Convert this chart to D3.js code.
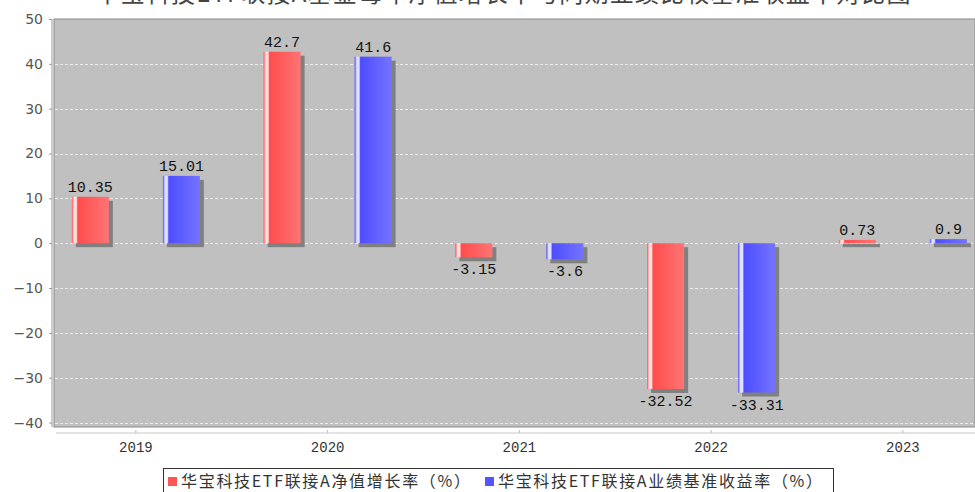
<!DOCTYPE html>
<html>
<head>
<meta charset="utf-8">
<script src="https://cdn.jsdelivr.net/npm/d3@7"></script>
<style>
  body { margin: 0; background: #fff; }
  svg { display: block; }
</style>
</head>
<body>
<div id="chart"></div>
<script>
// chart data
const years = ["2019", "2020", "2021", "2022", "2023"];
const seriesNames = ["华宝科技ETF联接A净值增长率（%）", "华宝科技ETF联接A业绩基准收益率（%）"];
const navGrowth = [10.35, 42.7, -3.15, -32.52, 0.73];
const benchmark = [15.01, 41.6, -3.6, -33.31, 0.9];
const yTicks = [-40, -30, -20, -10, 0, 10, 20, 30, 40, 50];
const title = "华宝科技ETF联接A基金每年净值增长率与同期业绩比较基准收益率对比图";

const W = 975, H = 492;
const plot = { left: 54, right: 975, top: 19, bottom: 427 };

const svg = d3.select("#chart").append("svg")
  .attr("width", W).attr("height", H);

const defs = svg.append("defs");
function barGradient(id, base, light, hi) {
  const g = defs.append("linearGradient").attr("id", id)
    .attr("x1", "0%").attr("x2", "100%").attr("y1", "0%").attr("y2", "0%");
  g.append("stop").attr("offset", "0%").attr("stop-color", base);
  g.append("stop").attr("offset", "6%").attr("stop-color", hi);
  g.append("stop").attr("offset", "12%").attr("stop-color", hi);
  g.append("stop").attr("offset", "16%").attr("stop-color", base);
  g.append("stop").attr("offset", "100%").attr("stop-color", light);
}
barGradient("gradRed", "#ff4d4d", "#ff7474", "#ffe0e0");
barGradient("gradBlue", "#4d4dff", "#7474ff", "#e0e0ff");

// title (cut off at the top as in the original)
svg.append("text")
  .attr("x", 503).attr("y", 2)
  .attr("text-anchor", "middle")
  .attr("font-family", "Noto Sans CJK SC")
  .attr("font-size", 24)
  .attr("textLength", 815).attr("lengthAdjust", "spacing")
  .attr("fill", "#444")
  .text(title);

// scales
const x0 = d3.scaleBand().domain(years).range([40, 40 + 191.75 * years.length]);
const x1 = d3.scaleBand().domain([0, 1]).range([0, x0.bandwidth()])
  .paddingInner(0.5934).paddingOuter(0.35);
const y = d3.scaleLinear().domain([-41, 50]).range([plot.bottom, plot.top]);

// plot background
svg.append("rect")
  .attr("x", plot.left).attr("y", plot.top)
  .attr("width", plot.right - plot.left).attr("height", plot.bottom - plot.top)
  .attr("fill", "#c0c0c0")
  .attr("stroke", "#8a8a8a").attr("stroke-width", 1);

// grid
svg.append("g").selectAll("line")
  .data(yTicks.filter(t => t !== 50))
  .enter().append("line")
    .attr("x1", plot.left + 1).attr("x2", plot.right)
    .attr("y1", d => Math.round(y(d)) + 0.5).attr("y2", d => Math.round(y(d)) + 0.5)
    .attr("stroke", "#ececec").attr("stroke-width", 1)
    .attr("stroke-dasharray", "3,2");

// y axis
const yAxis = svg.append("g")
  .attr("transform", `translate(${plot.left - 2},0)`)
  .call(d3.axisLeft(y).tickValues(yTicks).tickSize(3).tickPadding(6).tickFormat(d3.format("d")));
yAxis.select(".domain").attr("stroke", "#999").attr("d", `M0,${plot.top}V${plot.bottom}`);
yAxis.selectAll(".tick line").attr("stroke", "#999");
yAxis.selectAll("text")
  .attr("font-family", "DejaVu Sans")
  .attr("font-size", 14)
  .attr("fill", "#555")
  .text(d => d < 0 ? "\u2212" + Math.abs(d) : d);

// x axis
const xAxis = svg.append("g")
  .attr("transform", `translate(0,433)`)
  .call(d3.axisBottom(x0).tickSize(-3).tickPadding(9).tickSizeOuter(0));
xAxis.select(".domain").attr("stroke", "#c8c8c8").attr("d", `M${plot.left + 2},0H${plot.right}`);
xAxis.selectAll(".tick line").attr("stroke", "#bbb");
xAxis.selectAll("text")
  .attr("font-family", "Liberation Mono")
  .attr("font-size", 14)
  .attr("fill", "#333");

// bars
const rows = years.map((yr, i) => ({ year: yr, vals: [navGrowth[i], benchmark[i]] }));
const grads = ["url(#gradRed)", "url(#gradBlue)"];
const groups = svg.append("g").selectAll("g")
  .data(rows).enter().append("g")
    .attr("transform", d => `translate(${x0(d.year)},0)`);

const bars = groups.selectAll("g.bar")
  .data(d => d.vals.map((v, k) => ({ v, k })))
  .enter().append("g").attr("class", "bar");

// shadow
bars.append("rect")
  .attr("x", d => x1(d.k) + 4)
  .attr("y", d => Math.min(y(d.v), y(0)) + 4)
  .attr("width", x1.bandwidth())
  .attr("height", d => Math.max(Math.abs(y(d.v) - y(0)), 1))
  .attr("fill", "#808080");

bars.append("rect")
  .attr("x", d => x1(d.k))
  .attr("y", d => Math.min(y(d.v), y(0)))
  .attr("width", x1.bandwidth())
  .attr("height", d => Math.max(Math.abs(y(d.v) - y(0)), 1))
  .attr("fill", d => grads[d.k]);

// value labels
bars.append("text")
  .attr("x", d => x1(d.k) + x1.bandwidth() / 2)
  .attr("y", d => d.v >= 0 ? y(d.v) - 5 : y(d.v) + 17)
  .attr("text-anchor", "middle")
  .attr("font-family", "Liberation Mono")
  .attr("font-size", 15)
  .attr("fill", "#111")
  .text(d => d.v);

// legend
const legend = svg.append("g");
legend.append("rect")
  .attr("x", 163.5).attr("y", 468.5).attr("width", 670).attr("height", 30)
  .attr("fill", "#fff").attr("stroke", "#333");
const legendX = [168, 485];
const legendLen = [289, 324];
const legendColors = ["#ff5555", "#5555ff"];
seriesNames.forEach((name, i) => {
  legend.append("rect")
    .attr("x", legendX[i]).attr("y", 477).attr("width", 9).attr("height", 9)
    .attr("fill", legendColors[i]);
  legend.append("text")
    .attr("x", legendX[i] + 13).attr("y", 487)
    .attr("font-family", "Noto Sans CJK SC")
    .attr("font-size", 16)
    .attr("textLength", legendLen[i]).attr("lengthAdjust", "spacing")
    .attr("fill", "#333")
    .text(name);
});
</script>
</body>
</html>
